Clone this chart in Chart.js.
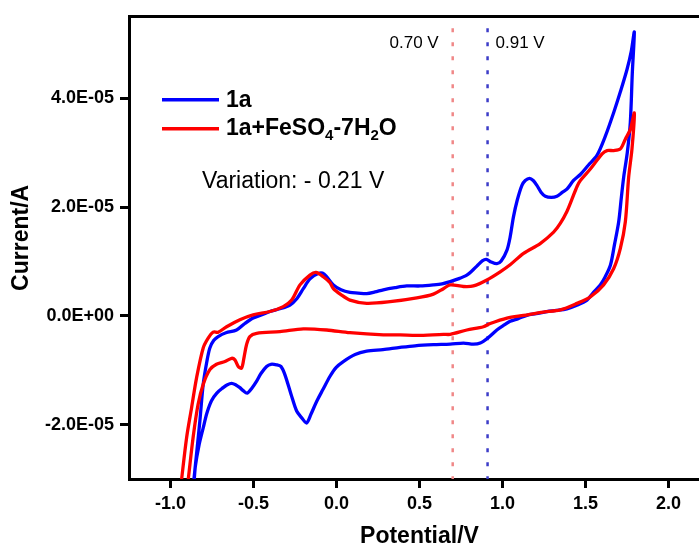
<!DOCTYPE html>
<html lang="en">
<head>
<meta charset="UTF-8">
<title>Cyclic voltammogram of 1a</title>
<script src="https://cdn.jsdelivr.net/npm/chart.js"></script>
<style>
  html, body { margin: 0; padding: 0; background: #fff; overflow: hidden; }
  #wrap { width: 720px; height: 549px; }
</style>
</head>
<body>
<div id="wrap"><canvas id="cv" width="720" height="549"></canvas></div>
<script>
// potential in V, current in units of 1E-05 A
const blueScan = [
  [-0.862,-3.12],[-0.859,-3.01],[-0.841,-2.48],[-0.823,-1.93],[-0.803,-1.26],[-0.781,-0.84],[-0.763,-0.59],
  [-0.739,-0.45],[-0.713,-0.38],[-0.666,-0.31],[-0.602,-0.26],[-0.552,-0.14],[-0.502,-0.04],[-0.449,0.02],
  [-0.401,0.08],[-0.341,0.13],[-0.280,0.20],[-0.238,0.32],[-0.200,0.50],[-0.160,0.68],[-0.110,0.78],
  [-0.075,0.77],[-0.019,0.57],[0.027,0.48],[0.081,0.43],[0.130,0.42],[0.182,0.41],[0.232,0.44],[0.282,0.48],
  [0.353,0.52],[0.423,0.55],[0.504,0.55],[0.584,0.57],[0.636,0.59],[0.685,0.63],[0.733,0.68],[0.785,0.75],
  [0.817,0.83],[0.847,0.92],[0.878,1.01],[0.902,1.04],[0.932,0.99],[0.966,0.96],[0.992,1.01],[1.027,1.21],
  [1.046,1.45],[1.066,1.82],[1.089,2.13],[1.117,2.40],[1.137,2.49],[1.163,2.53],[1.185,2.49],[1.207,2.40],
  [1.233,2.27],[1.258,2.20],[1.294,2.18],[1.328,2.20],[1.360,2.27],[1.388,2.33],[1.428,2.49],[1.469,2.60],
  [1.517,2.77],[1.569,2.95],[1.619,3.30],[1.670,3.74],[1.710,4.12],[1.750,4.53],[1.776,4.87],[1.794,5.22],
  [1.782,4.47],[1.770,3.56],[1.752,3.01],[1.730,2.55],[1.716,2.18],[1.700,1.73],[1.674,1.30],[1.650,0.93],
  [1.619,0.72],[1.589,0.57],[1.547,0.43],[1.509,0.29],[1.444,0.19],[1.388,0.13],[1.324,0.10],[1.268,0.08],
  [1.203,0.04],[1.147,0.01],[1.095,-0.05],[1.046,-0.10],[1.004,-0.18],[0.966,-0.26],[0.914,-0.40],
  [0.866,-0.50],[0.825,-0.52],[0.765,-0.50],[0.685,-0.52],[0.584,-0.53],[0.473,-0.55],[0.383,-0.58],
  [0.280,-0.62],[0.182,-0.65],[0.112,-0.71],[0.041,-0.84],[-0.003,-0.95],[-0.039,-1.11],[-0.081,-1.35],
  [-0.119,-1.57],[-0.154,-1.81],[-0.180,-1.97],[-0.208,-1.88],[-0.240,-1.75],[-0.274,-1.44],[-0.311,-1.08],
  [-0.335,-0.93],[-0.361,-0.90],[-0.395,-0.89],[-0.421,-0.93],[-0.455,-1.06],[-0.481,-1.20],[-0.510,-1.33],
  [-0.538,-1.42],[-0.564,-1.37],[-0.582,-1.32],[-0.606,-1.27],[-0.632,-1.24],[-0.660,-1.27],[-0.683,-1.32],
  [-0.721,-1.42],[-0.753,-1.56],[-0.781,-1.79],[-0.803,-2.06],[-0.829,-2.39],[-0.850,-2.76],[-0.857,-3.01],
  [-0.860,-3.12]
];

const redScan = [
  [-0.938,-3.14],[-0.934,-3.03],[-0.903,-2.24],[-0.873,-1.69],[-0.843,-1.14],[-0.803,-0.59],[-0.773,-0.41],
  [-0.743,-0.30],[-0.713,-0.30],[-0.662,-0.20],[-0.582,-0.07],[-0.502,0.02],[-0.401,0.08],[-0.321,0.17],
  [-0.270,0.29],[-0.220,0.57],[-0.160,0.75],[-0.124,0.80],[-0.080,0.72],[-0.039,0.61],[-0.019,0.50],
  [0.027,0.39],[0.081,0.29],[0.182,0.23],[0.323,0.26],[0.484,0.33],[0.584,0.40],[0.644,0.50],[0.685,0.57],
  [0.765,0.54],[0.825,0.55],[0.906,0.66],[0.986,0.81],[1.046,0.94],[1.127,1.15],[1.227,1.33],[1.308,1.54],
  [1.348,1.70],[1.388,1.92],[1.419,2.15],[1.449,2.38],[1.469,2.49],[1.529,2.70],[1.600,2.98],[1.630,3.04],
  [1.670,3.04],[1.710,3.07],[1.740,3.25],[1.770,3.43],[1.794,3.73],
  [1.780,3.07],[1.760,2.55],[1.740,1.73],[1.710,1.24],[1.670,0.87],[1.609,0.57],[1.529,0.35],[1.449,0.23],
  [1.348,0.11],[1.247,0.07],[1.127,0.01],[1.027,-0.04],[0.926,-0.14],[0.885,-0.20],[0.785,-0.26],
  [0.685,-0.34],[0.644,-0.34],[0.484,-0.36],[0.383,-0.35],[0.282,-0.35],[0.081,-0.31],[-0.059,-0.26],
  [-0.200,-0.24],[-0.341,-0.29],[-0.481,-0.32],[-0.522,-0.38],[-0.542,-0.53],[-0.558,-0.78],[-0.572,-0.96],
  [-0.592,-0.93],[-0.612,-0.81],[-0.632,-0.78],[-0.672,-0.84],[-0.723,-0.89],[-0.763,-0.99],[-0.803,-1.26],
  [-0.834,-1.63],[-0.864,-2.24],[-0.894,-3.03],[-0.899,-3.14]
];

// onset markers
const markerPotentials = [0.70, 0.91];
const markerLabels = ['0.70 V', '0.91 V'];
const markerColors = ['rgb(240,135,135)', 'rgb(60,60,200)'];
const markerSpan = [5.29, -3.0];

const seriesLabels = ['1a', '1a+FeSO4-7H2O'];
const seriesColors = ['#0000ff', '#ff0000'];

const xTicks = [-1.0, -0.5, 0.0, 0.5, 1.0, 1.5, 2.0];
const xTickLabels = ['-1.0', '-0.5', '0.0', '0.5', '1.0', '1.5', '2.0'];
const yTicks = [-2, 0, 2, 4];
const yTickLabels = ['-2.0E-05', '0.0E+00', '2.0E-05', '4.0E-05'];

const FONT = "'Liberation Sans', Arial, Helvetica, sans-serif";
const toXY = arr => arr.map(p => ({ x: p[0], y: p[1] }));

const curve = (data, color) => ({
  data: toXY(data),
  showLine: true,
  borderColor: color,
  borderWidth: 3.3,
  pointRadius: 0,
  tension: 0.3,
  borderJoinStyle: 'round',
  borderCapStyle: 'round'
});

const marker = i => ({
  data: markerSpan.map(v => ({ x: markerPotentials[i], y: v })),
  showLine: true,
  borderColor: markerColors[i],
  borderWidth: 2.5,
  borderDash: [4, 10],
  pointRadius: 0
});

// legend, axis title, marker captions and the shift note
const annotate = {
  id: 'annotate',
  afterDraw(chart) {
    const { ctx, chartArea: a, scales: { x } } = chart;
    ctx.save();
    ctx.fillStyle = '#000';
    ctx.textBaseline = 'middle';

    // y axis title
    ctx.save();
    ctx.translate(22, (a.top + a.bottom) / 2 - 10);
    ctx.rotate(-Math.PI / 2);
    ctx.textAlign = 'center';
    ctx.font = 'bold 23px ' + FONT;
    ctx.fillText('Current/A', 0, 0);
    ctx.restore();

    // marker captions
    ctx.font = '17px ' + FONT;
    ctx.textAlign = 'right';
    ctx.fillText(markerLabels[0], x.getPixelForValue(markerPotentials[0]) - 14, a.top + 27);
    ctx.textAlign = 'left';
    ctx.fillText(markerLabels[1], x.getPixelForValue(markerPotentials[1]) + 8, a.top + 27);

    // legend
    const lx = a.left + 33, tx = a.left + 97;
    const rows = [a.top + 83, a.top + 112];
    ctx.lineWidth = 3.5;
    rows.forEach((y, i) => {
      ctx.strokeStyle = seriesColors[i];
      ctx.beginPath();
      ctx.moveTo(lx, y);
      ctx.lineTo(lx + 57, y);
      ctx.stroke();
    });
    ctx.font = 'bold 23px ' + FONT;
    ctx.fillText(seriesLabels[0], tx, rows[0] + 1);
    const parts = [['1a+FeSO', false], ['4', true], ['-7H', false], ['2', true], ['O', false]];
    let cx = tx;
    parts.forEach(([t, sub]) => {
      ctx.font = (sub ? 'bold 15px ' : 'bold 23px ') + FONT;
      ctx.fillText(t, cx, rows[1] + (sub ? 7 : 0));
      cx += ctx.measureText(t).width;
    });

    ctx.font = '23px ' + FONT;
    ctx.fillText('Variation: - 0.21 V', a.left + 73, a.top + 165);
    ctx.restore();
  }
};

new Chart(document.getElementById('cv'), {
  type: 'scatter',
  data: {
    datasets: [
      curve(redScan, seriesColors[1]),
      curve(blueScan, seriesColors[0]),
      marker(0),
      marker(1)
    ]
  },
  options: {
    responsive: false,
    animation: false,
    devicePixelRatio: 1,
    layout: { padding: { top: 14, right: 10, left: 0, bottom: 0 } },
    plugins: { legend: { display: false }, tooltip: { enabled: false } },
    scales: {
      x: {
        type: 'linear',
        position: 'bottom',
        min: -1.25,
        max: 2.25,
        afterBuildTicks: s => { s.ticks = xTicks.map(v => ({ value: v })); },
        afterFit: s => { s.height = 70; },
        ticks: {
          callback: v => xTickLabels[xTicks.indexOf(v)],
          color: '#000',
          padding: 5,
          maxRotation: 0,
          autoSkip: false,
          font: { family: FONT, size: 18, weight: 'bold' }
        },
        grid: { drawOnChartArea: false, drawTicks: true, tickLength: 9, lineWidth: 3, color: '#000' },
        border: { display: true, width: 3, color: '#000' },
        title: {
          display: true,
          text: 'Potential/V',
          color: '#000',
          padding: { top: 0, bottom: 1 },
          font: { family: FONT, size: 23, weight: 'bold', lineHeight: 1 }
        }
      },
      xTop: {
        type: 'linear',
        position: 'top',
        min: -1.25,
        max: 2.25,
        afterFit: s => { s.height = 0; },
        ticks: { display: false },
        grid: { display: false },
        border: { display: true, width: 3, color: '#000' }
      },
      y: {
        type: 'linear',
        position: 'left',
        min: -3,
        max: 5.5,
        afterBuildTicks: s => { s.ticks = yTicks.map(v => ({ value: v })); },
        afterFit: s => { s.width = 129; },
        ticks: {
          callback: v => yTickLabels[yTicks.indexOf(v)],
          color: '#000',
          padding: 6,
          font: { family: FONT, size: 18, weight: 'bold' }
        },
        grid: { drawOnChartArea: false, drawTicks: true, tickLength: 9, lineWidth: 3, color: '#000' },
        border: { display: true, width: 3, color: '#000' }
      }
    }
  },
  plugins: [annotate]
});
</script>
</body>
</html>
